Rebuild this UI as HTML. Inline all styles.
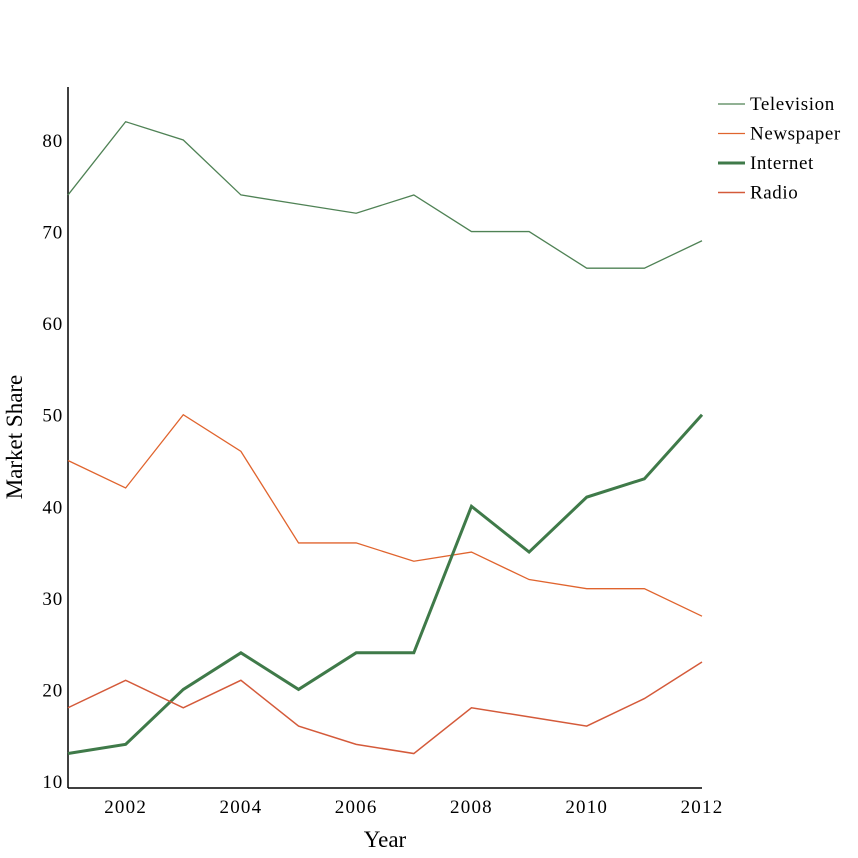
<!DOCTYPE html>
<html><head><meta charset="utf-8"><style>
body{margin:0;background:#fff}
svg{display:block;font-family:"Liberation Serif",serif}
</style></head><body>
<svg id="c" width="858" height="858"></svg>
<script>
const years=[2001,2002,2003,2004,2005,2006,2007,2008,2009,2010,2011,2012];
const television=[74,82,80,74,73,72,74,70,70,66,66,69];
const newspaper=[45,42,50,46,36,36,34,35,32,31,31,28];
const internet=[13,14,20,24,20,24,24,40,35,41,43,50];
const radio=[18,21,18,21,16,14,13,18,17,16,19,23];
const xTicks=[2002,2004,2006,2008,2010,2012];
const yTicks=[10,20,30,40,50,60,70,80];
const NS="http://www.w3.org/2000/svg";
const svg=document.getElementById('c');
const x=v=>68+(v-2001)*(634/11);
const y=v=>781-(v-10)*9.157;
function mk(t,a,p){const e=document.createElementNS(NS,t);for(const k in a)e.setAttribute(k,a[k]);(p||svg).appendChild(e);return e;}
const ax=mk('g',{});


mk('line',{x1:68,y1:87,x2:68,y2:788,stroke:'#000','stroke-width':1.5},ax);
mk('line',{x1:68,y1:788,x2:702,y2:788,stroke:'#000','stroke-width':1.5},ax);
yTicks.forEach(v=>{const t=mk('text',{x:63,y:y(v)+7,'text-anchor':'end','font-size':19,'letter-spacing':0.8},ax);t.textContent=v;

});
xTicks.forEach(v=>{const t=mk('text',{x:x(v),y:813,'text-anchor':'middle','font-size':19,'letter-spacing':1.2},ax);t.textContent=v;

});
const xt=mk('text',{x:385,y:847,'text-anchor':'middle','font-size':23});xt.textContent='Year';


const yt=mk('text',{x:0,y:0,'text-anchor':'middle','font-size':23,transform:'translate(22,437) rotate(-90)'});yt.textContent='Market Share';


const series=[["Television",television,'#4f8255',1.3],["Newspaper",newspaper,'#e0642e',1.3],["Internet",internet,'#3f7a49',3],["Radio",radio,'#d45a3a',1.5]];
series.forEach((s,i)=>{
 const p=mk('polyline',{points:s[1].map((v,j)=>x(years[j])+','+y(v)).join(' '),fill:'none',stroke:s[2],'stroke-width':s[3]});
 
 
 const g=mk('g',{});
 
 
 const ly=104+i*29.5;
 mk('line',{x1:718,y1:ly,x2:745,y2:ly,stroke:s[2],'stroke-width':s[3]},g);
 const t=mk('text',{x:750,y:ly+6,'font-size':19,'letter-spacing':0.6},g);t.textContent=s[0];
});
</script>
</body></html>
